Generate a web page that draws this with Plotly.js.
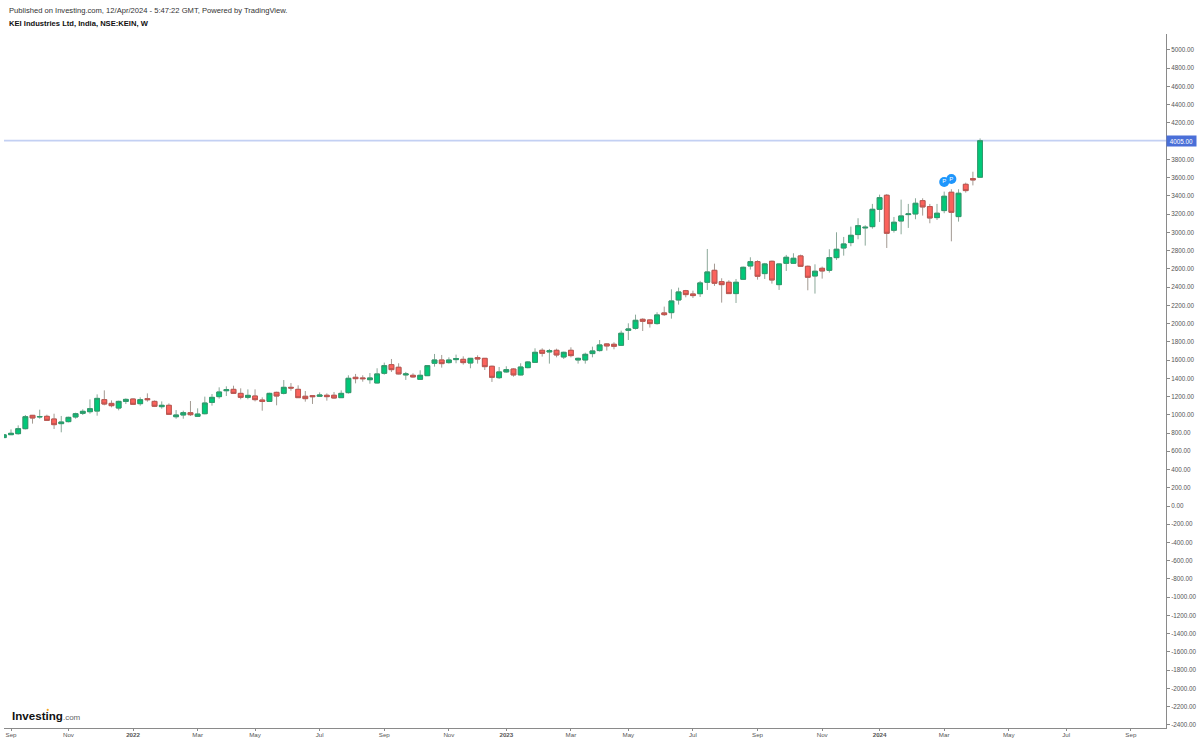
<!DOCTYPE html>
<html><head><meta charset="utf-8">
<script src="https://cdn.plot.ly/plotly-3.0.1.min.js"></script>
<style>html,body{margin:0;padding:0;background:#fff}#c{width:1200px;height:742px}</style></head>
<body><div id="c"></div>
<script>
const open_ = [750,782,793,848,994,977,983,954,903,925,976,1016,1034,1041,1166,1125,1074,1147,1173,1122,1177,1147,1089,1104,979,998,1023,983,1012,1136,1199,1264,1279,1235,1191,1206,1162,1147,1246,1235,1301,1279,1203,1210,1203,1214,1214,1188,1243,1411,1404,1385,1349,1455,1550,1521,1437,1433,1389,1429,1565,1601,1572,1605,1608,1568,1627,1619,1532,1407,1470,1502,1437,1517,1575,1707,1689,1707,1634,1707,1601,1601,1671,1704,1777,1773,1762,1926,1948,2047,2040,2000,2117,2120,2259,2361,2325,2328,2453,2584,2460,2453,2329,2486,2632,2679,2548,2683,2427,2661,2661,2742,2628,2522,2606,2584,2723,2829,2888,2976,3049,3063,3253,3407,3023,3125,3195,3202,3348,3283,3162,3239,3440,3173,3527,3590,3605];
const high = [785,840,884,998,998,1056,1001,1012,987,979,1023,1060,1169,1224,1268,1158,1155,1180,1180,1191,1235,1158,1147,1125,1052,1045,1151,1071,1199,1228,1301,1312,1319,1290,1279,1279,1191,1242,1253,1381,1348,1323,1261,1214,1246,1235,1250,1268,1433,1448,1433,1458,1510,1572,1612,1565,1470,1455,1488,1543,1667,1656,1630,1660,1641,1623,1652,1619,1539,1524,1532,1510,1565,1586,1729,1729,1722,1725,1692,1740,1627,1681,1747,1820,1784,1795,1923,2003,2098,2058,2047,2124,2186,2376,2394,2369,2361,2468,2818,2657,2497,2475,2489,2625,2727,2694,2665,2690,2661,2753,2771,2756,2636,2650,2625,2815,3001,2950,3063,3155,3078,3312,3414,3421,3169,3359,3312,3374,3374,3312,3312,3447,3473,3473,3545,3665,4030];
const low = [745,778,782,840,903,957,932,844,808,917,957,998,1012,990,1104,1082,1049,1118,1107,1100,1144,1085,1067,1001,957,957,987,979,1005,1100,1177,1206,1228,1170,1170,1147,1045,1140,1104,1224,1264,1184,1144,1119,1195,1155,1177,1184,1232,1345,1363,1341,1345,1440,1470,1444,1382,1407,1385,1426,1528,1517,1561,1565,1550,1510,1561,1491,1360,1393,1462,1418,1433,1510,1572,1638,1561,1630,1612,1630,1561,1561,1630,1693,1704,1718,1755,1820,1934,1919,1956,1989,2084,2054,2208,2288,2281,2292,2369,2413,2230,2325,2226,2478,2592,2482,2489,2438,2369,2577,2654,2625,2365,2329,2493,2559,2698,2745,2848,2924,2855,3041,3114,2829,2998,2979,3049,3144,3184,3100,3136,3210,2902,3118,3436,3515,3600];
const close_ = [780,797,848,979,965,980,939,892,921,972,1012,1038,1067,1180,1118,1100,1147,1169,1115,1166,1166,1093,1104,1005,998,1023,1001,1008,1129,1191,1250,1275,1235,1191,1213,1166,1147,1235,1206,1301,1294,1188,1177,1199,1217,1199,1184,1235,1400,1396,1396,1404,1448,1539,1495,1448,1448,1415,1433,1539,1601,1561,1601,1616,1572,1619,1612,1528,1411,1470,1495,1437,1524,1579,1685,1674,1703,1656,1685,1649,1619,1663,1700,1766,1755,1751,1894,1941,2036,2025,2000,2095,2098,2248,2347,2318,2307,2446,2566,2442,2427,2329,2453,2617,2679,2519,2654,2478,2654,2727,2716,2628,2508,2574,2577,2723,2815,2873,2968,3074,3056,3253,3381,2990,3111,3180,3202,3319,3279,3158,3210,3396,3220,3429,3458,3575,4005];
const firstWeek = '2021-08-30';
const pivotWeeks = ['2024-03-04','2024-03-11'];
const pivotValues = [3553,3585];
const lastPrice = 4005;
const xTickDates = ['2021-09-06','2021-11-01','2022-01-03','2022-03-07','2022-05-02','2022-07-04','2022-09-05','2022-11-07','2023-01-02','2023-03-06','2023-05-01','2023-07-03','2023-09-04','2023-11-06','2024-01-01','2024-03-04','2024-05-06','2024-07-01','2024-09-02'];
const xTickLabels = ['Sep','Nov','<b>2022</b>','Mar','May','Jul','Sep','Nov','<b>2023</b>','Mar','May','Jul','Sep','Nov','<b>2024</b>','Mar','May','Jul','Sep'];
const yTicks = [5000,4800,4600,4400,4200,4000,3800,3600,3400,3200,3000,2800,2600,2400,2200,2000,1800,1600,1400,1200,1000,800,600,400,200,0,-200,-400,-600,-800,-1000,-1200,-1400,-1600,-1800,-2000,-2200,-2400];

const DAY = 86400000, base = Date.parse(firstWeek + 'T00:00:00Z');
const iso = ms => new Date(ms).toISOString().slice(0,19).replace('T',' ');
const dates = open_.map((_, i) => iso(base + i*7*DAY));
const idx = f => base + (f-1)*7*DAY;

const wick = {type:'candlestick', x:dates, open:open_, high:high, low:low, close:close_,
  increasing:{line:{color:'#8ba899',width:1}, fillcolor:'#00c176'},
  decreasing:{line:{color:'#a39a92',width:1}, fillcolor:'#f4605a'},
  whiskerwidth:0, showlegend:false, hoverinfo:'skip'};
const body = {type:'candlestick', x:dates, open:open_, close:close_,
  high:open_.map((o,i)=>Math.max(o,close_[i])), low:open_.map((o,i)=>Math.min(o,close_[i])),
  increasing:{line:{color:'#2f9a6c',width:1}, fillcolor:'#00c979'},
  decreasing:{line:{color:'#bd5550',width:1}, fillcolor:'#fb625c'},
  whiskerwidth:0, showlegend:false, hoverinfo:'skip'};
const pivots = {type:'scatter', mode:'markers+text', x:pivotWeeks.map(d=>d+' 00:00:00'), y:pivotValues,
  text:['P','P'], textposition:'middle center', textfont:{family:'Liberation Sans',size:6,color:'#fff'},
  marker:{size:10,color:'#1e96fc',line:{width:0}}, cliponaxis:false, showlegend:false, hoverinfo:'skip'};

const layout = {
  width:1200, height:742, paper_bgcolor:'#fff', plot_bgcolor:'#fff', showlegend:false,
  margin:{l:4,r:34,t:34,b:14,pad:0}, hovermode:false, dragmode:false,
  font:{family:'"Liberation Sans",Arial,sans-serif',color:'#555'},
  boxgap:0.05, boxgroupgap:0.3,
  xaxis:{type:'date', range:[iso(idx(1.025)),iso(idx(162.9))], rangeslider:{visible:false},
    tickmode:'array', tickvals:xTickDates, ticktext:xTickLabels, showgrid:false, zeroline:false,
    showline:true, linecolor:'#8a8a8a', linewidth:1, ticks:'outside', ticklen:2, tickcolor:'#8a8a8a',
    tickfont:{size:6.2,color:'#555'}, tickangle:0, ticklabelstandoff:-1},
  yaxis:{side:'right', range:[-2434,5175], tickmode:'array', tickvals:yTicks,
    ticktext:yTicks.map(v=>v.toFixed(2)), showgrid:false, zeroline:false,
    showline:true, linecolor:'#8a8a8a', linewidth:1, ticks:'outside', ticklen:3, tickcolor:'#8a8a8a',
    tickfont:{size:6.3,color:'#555'}},
  shapes:[{type:'line',xref:'paper',x0:0,x1:1,yref:'y',y0:lastPrice,y1:lastPrice,line:{color:'#c3d0f3',width:1.8},layer:'below'},
    {type:'circle',xref:'paper',yref:'paper',x0:(46.6-4)/1162,x1:(48.8-4)/1162,y0:(728-711)/694,y1:(728-708.8)/694,fillcolor:'#f5a623',line:{width:0},layer:'above'}],
  annotations:[
    {xref:'paper',yref:'y',x:1,y:lastPrice,xanchor:'left',yanchor:'middle',text:lastPrice.toFixed(2),showarrow:false,
     bgcolor:'#4a6fd8',font:{size:6.3,color:'#fff'},borderpad:1.5,width:26,align:'center'},
    {xref:'paper',yref:'paper',x:0,y:1,xanchor:'left',yanchor:'middle',xshift:3,yshift:24,showarrow:false,align:'left',
     text:'Published on Investing.com, 12/Apr/2024 - 5:47:22 GMT, Powered by TradingView.',font:{size:7.6,color:'#333'}},
    {xref:'paper',yref:'paper',x:0,y:1,xanchor:'left',yanchor:'middle',xshift:3,yshift:11,showarrow:false,align:'left',
     text:'<b>KEI Industries Ltd, India, NSE:KEIN, W</b>',font:{size:7.6,color:'#111'}},
    {xref:'paper',yref:'paper',x:0,y:0,xanchor:'left',yanchor:'middle',xshift:6,yshift:13,showarrow:false,align:'left',
     text:'<b><span style="font-size:11.6px;color:#111">Investing</span></b><span style="font-size:8px;color:#666">.com</span>'}
  ]
};
Plotly.newPlot('c',[wick,body,pivots],layout,{displayModeBar:false,staticPlot:true});
</script></body></html>
